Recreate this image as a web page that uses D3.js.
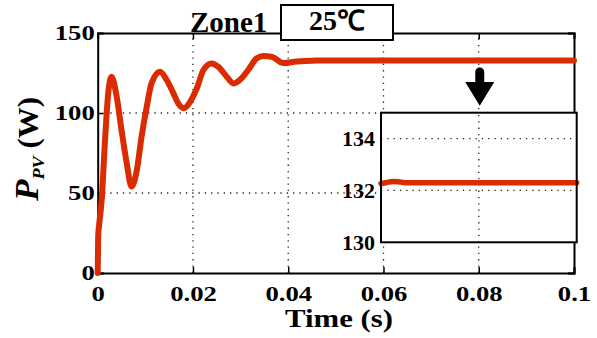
<!DOCTYPE html>
<html>
<head>
<meta charset="utf-8">
<script src="https://cdn.jsdelivr.net/npm/d3@7"></script>
<style>
  body { margin: 0; background: #fff; }
  svg text { font-family: "Liberation Serif", "Times New Roman", serif; font-weight: bold; fill: #000; }
</style>
</head>
<body>
<svg id="chart" width="597" height="338"></svg>
<script>
// ---- data ----
const timeMain = [0, 0.0001, 0.0003, 0.00084, 0.0015, 0.0022, 0.0029, 0.004, 0.005, 0.0061, 0.0071,
  0.0082, 0.0092, 0.0103, 0.0113, 0.0131, 0.0145, 0.0159, 0.0169, 0.0181, 0.0194, 0.0208, 0.0222,
  0.0239, 0.0253, 0.0271, 0.0285, 0.0302, 0.0316, 0.0334, 0.0348, 0.0365, 0.039, 0.0418, 0.045,
  0.05, 0.06, 0.07, 0.08, 0.09, 0.1];
const powerMain = [0, 23, 30, 45.6, 81, 112, 122.7, 110, 89.4, 68.5, 54,
  64, 85, 104, 118.5, 125.8, 120.6, 112.3, 106, 103, 107, 115.4, 126.9,
  131, 129, 122.7, 118.5, 121.7, 126.9, 134.2, 135.6, 135.2, 131.2, 132.2, 132.7,
  132.8, 132.8, 132.8, 132.8, 132.8, 132.8];

const timeInset = [0.06, 0.061, 0.0625, 0.0635, 0.065, 0.07, 0.08, 0.09, 0.1];
const powerInset = [132.27, 132.3, 132.35, 132.34, 132.3, 132.3, 132.3, 132.3, 132.3];

const xTicks = [0, 0.02, 0.04, 0.06, 0.08, 0.1];
const xTickLabels = ["0", "0.02", "0.04", "0.06", "0.08", "0.1"];
const yTicks = [0, 50, 100, 150];
const insetYTicks = [130, 132, 134];

const LINE_COLOR = "#da2c00";
const GRID_DASH = "1.3,5";

const svg = d3.select("#chart");

const x = d3.scaleLinear().domain([0, 0.1]).range([97.7, 574]);
const y = d3.scaleLinear().domain([0, 150]).range([273, 33]);

const xIn = d3.scaleLinear().domain([0.06, 0.1]).range([381, 576.7]);
const yIn = d3.scaleLinear().domain([130, 135]).range([242.3, 112.7]);

// stretch text horizontally in its own frame (the reference fonts are wide)
function stretchText(sel, sx){
  sel.each(function(){
    const t = d3.select(this);
    const ox = +t.attr("x") || 0;
    t.attr("x", ox / sx).attr("transform", "scale(" + sx + ",1)");
  });
}

// ---- main grid ----
const grid = svg.append("g").attr("stroke", "#222").attr("stroke-width", 1.3)
  .attr("stroke-dasharray", GRID_DASH);
grid.selectAll(".gx").data(xTicks.slice(1, -1)).join("line")
  .attr("x1", d => x(d)).attr("x2", d => x(d))
  .attr("y1", y(0)).attr("y2", y(150));
grid.selectAll(".gy").data(yTicks.slice(1, -1)).join("line")
  .attr("x1", x(0)).attr("x2", x(0.1))
  .attr("y1", d => y(d)).attr("y2", d => y(d));

// ---- axes ----
const xAxis = svg.append("g").attr("transform", "translate(0," + y(0) + ")")
  .call(d3.axisBottom(x).tickValues(xTicks).tickFormat((d, i) => xTickLabels[i])
    .tickSize(-6).tickPadding(13));
const yAxis = svg.append("g").attr("transform", "translate(" + x(0) + ",0)")
  .call(d3.axisLeft(y).tickValues(yTicks).tickSize(-6).tickPadding(3));
svg.append("g").attr("transform", "translate(0," + y(150) + ")")
  .call(d3.axisTop(x).tickValues(xTicks).tickSize(-6).tickFormat(""));
svg.append("g").attr("transform", "translate(" + x(0.1) + ",0)")
  .call(d3.axisRight(y).tickValues(yTicks).tickSize(-6).tickFormat(""));

svg.selectAll(".domain").attr("stroke", "#000").attr("stroke-width", 2);
svg.selectAll(".tick line").attr("stroke", "#000").attr("stroke-width", 1.5);
[xAxis, yAxis].forEach(a => a.selectAll("text")
  .style("font-size", "21px").style("font-family", "Liberation Serif").style("font-weight", "bold")
  .attr("fill", "#000"));
stretchText(xAxis.selectAll("text"), 1.27);
stretchText(yAxis.selectAll("text"), 1.27);

// ---- main curve ----
const line = d3.line().x((d, i) => x(timeMain[i])).y(d => y(d)).curve(d3.curveMonotoneX);
svg.append("path").datum(powerMain)
  .attr("d", line)
  .attr("fill", "none")
  .attr("stroke", LINE_COLOR)
  .attr("stroke-width", 6)
  .attr("stroke-linecap", "round")
  .attr("stroke-linejoin", "round");

// ---- inset ----
const inset = svg.append("g");
inset.append("rect")
  .attr("x", xIn(0.06)).attr("y", yIn(135))
  .attr("width", xIn(0.1) - xIn(0.06)).attr("height", yIn(130) - yIn(135))
  .attr("fill", "#fff");
const ig = inset.append("g").attr("stroke", "#222").attr("stroke-width", 1.3)
  .attr("stroke-dasharray", GRID_DASH);
ig.selectAll(".igx").data([0.08]).join("line")
  .attr("x1", d => xIn(d)).attr("x2", d => xIn(d))
  .attr("y1", yIn(130)).attr("y2", yIn(135));
ig.selectAll(".igy").data(insetYTicks.slice(1)).join("line")
  .attr("x1", xIn(0.06)).attr("x2", xIn(0.1))
  .attr("y1", d => yIn(d)).attr("y2", d => yIn(d));

const lineIn = d3.line().x((d, i) => xIn(timeInset[i])).y(d => yIn(d)).curve(d3.curveMonotoneX);
inset.append("path").datum(powerInset)
  .attr("d", lineIn)
  .attr("fill", "none")
  .attr("stroke", LINE_COLOR)
  .attr("stroke-width", 5.5)
  .attr("stroke-linecap", "round");

inset.append("rect")
  .attr("x", xIn(0.06)).attr("y", yIn(135))
  .attr("width", xIn(0.1) - xIn(0.06)).attr("height", yIn(130) - yIn(135))
  .attr("fill", "none").attr("stroke", "#000").attr("stroke-width", 2);

inset.selectAll(".iyl").data(insetYTicks).join("text")
  .attr("x", xIn(0.06) - 6).attr("y", d => yIn(d)).attr("dy", "0.34em")
  .attr("text-anchor", "end")
  .style("font-size", "22px")
  .text(d => d);

// ---- arrow ----
const ax = x(0.08) + 1;
const arrowTop = 68, headTop = 82, tip = yIn(135) - 7;
svg.append("path")
  .attr("d", "M" + (ax - 4.5) + "," + headTop + " L" + (ax - 4.5) + "," + (arrowTop + 4)
    + " A4.5,4.5 0 0 1 " + (ax + 4.5) + "," + (arrowTop + 4)
    + " L" + (ax + 4.5) + "," + headTop
    + " L" + (ax + 14.5) + "," + headTop
    + " L" + ax + "," + tip
    + " L" + (ax - 14.5) + "," + headTop + " Z")
  .attr("fill", "#000");

// ---- title ----
svg.append("text").attr("x", 190).attr("y", 31.5)
  .style("font-size", "29px").text("Zone1");
svg.append("rect").attr("x", 281).attr("y", 5).attr("width", 112).attr("height", 35)
  .attr("fill", "#fff").attr("stroke", "#000").attr("stroke-width", 2);
svg.append("text").attr("x", 337).attr("y", 30).attr("text-anchor", "middle")
  .style("font-size", "28px").text("25℃");

// ---- axis labels ----
svg.append("text").attr("x", 339 / 1.23).attr("y", 327.5)
  .attr("transform", "scale(1.23,1)")
  .attr("text-anchor", "middle")
  .style("font-size", "25px").text("Time (s)");

const yl = svg.append("text")
  .attr("transform", "translate(38,149) rotate(-90) scale(1.07,1)")
  .attr("text-anchor", "middle");
yl.append("tspan").style("font-size", "33px").style("font-style", "italic").text("P");
yl.append("tspan").style("font-size", "17px").style("font-style", "italic")
  .attr("dy", 6).text("PV");
yl.append("tspan").style("font-size", "29px").attr("dy", -6).text(" (W)");
</script>
</body>
</html>
